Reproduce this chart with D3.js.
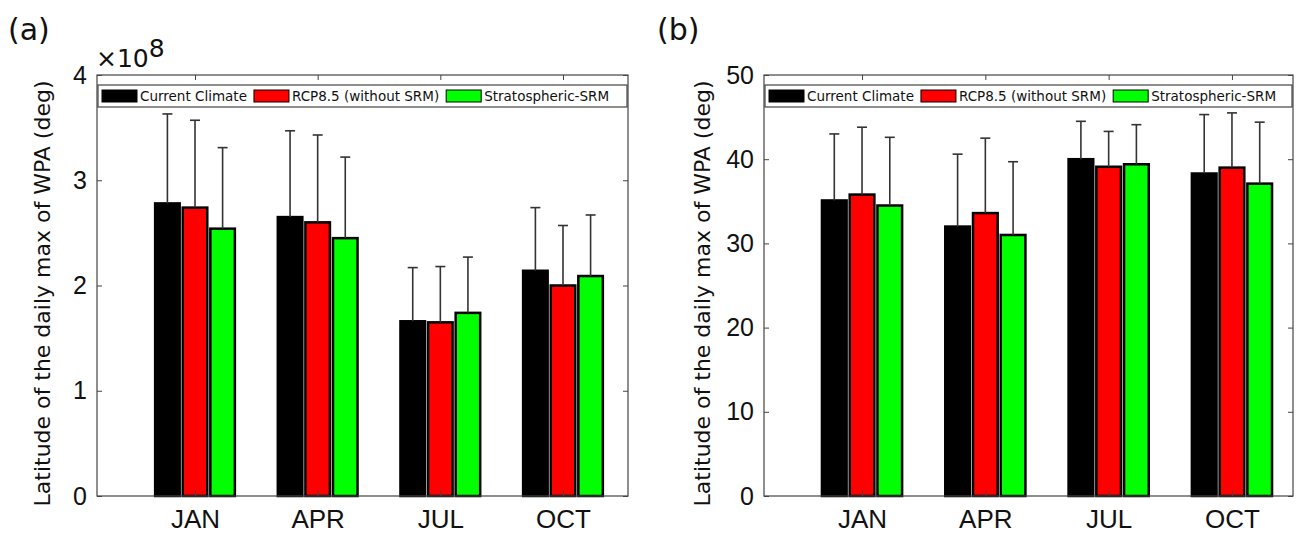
<!DOCTYPE html>
<html>
<head>
<meta charset="utf-8">
<script src="https://cdn.jsdelivr.net/npm/d3@7"></script>
<style>
body{margin:0;background:#fff;}
svg{font-family:"DejaVu Sans",sans-serif;}
</style>
</head>
<body>
<svg id="chart" width="1297" height="537"></svg>
<script>
var months = ["JAN","APR","JUL","OCT"];
var series = ["Current Climate","RCP8.5 (without SRM)","Stratospheric-SRM"];
var colors = ["#000000","#ff0000","#00ff00"];

// panel (a): values in units of 1e8
var aMean = [[2.78,2.65,1.66,2.14],[2.74,2.60,1.65,2.00],[2.54,2.45,1.74,2.09]];
var aTop  = [[3.63,3.47,2.17,2.74],[3.57,3.43,2.18,2.57],[3.31,3.22,2.27,2.67]];
var aTicks = [0,1,2,3,4];

// panel (b): degrees
var bMean = [[35.1,32.0,40.0,38.3],[35.8,33.6,39.1,39.0],[34.5,31.0,39.4,37.1]];
var bTop  = [[43.0,40.6,44.5,45.3],[43.8,42.5,43.3,45.5],[42.6,39.7,44.1,44.4]];
var bTicks = [0,10,20,30,40,50];

var svg = d3.select("#chart");

function panel(opt){
    var x = d3.scaleLinear().domain(opt.xdom).range([opt.l, opt.r]);
    var y = d3.scaleLinear().domain([0, opt.ymax]).range([opt.b, opt.t]);
    var g = svg.append("g");
    var off = 0.225, bw = 0.2;

    // bars
    series.forEach(function(s, si){
        g.selectAll(".bar"+si).data(opt.mean[si]).enter().append("rect")
            .attr("x", function(d,i){ return x(i+1+(si-1)*off-bw/2); })
            .attr("width", x(bw)-x(0))
            .attr("y", function(d){ return y(d); })
            .attr("height", function(d){ return y(0)-y(d); })
            .attr("fill", colors[si])
            .attr("stroke","#000").attr("stroke-width",2.5);
    });
    // error bars
    series.forEach(function(s, si){
        var eg = g.selectAll(".err"+si).data(opt.top[si]).enter().append("g");
        eg.append("line")
            .attr("x1", function(d,i){ return x(i+1+(si-1)*off); })
            .attr("x2", function(d,i){ return x(i+1+(si-1)*off); })
            .attr("y1", function(d,i){ return y(opt.mean[si][i]); })
            .attr("y2", function(d){ return y(d); })
            .attr("stroke","#333").attr("stroke-width",1.6);
        eg.append("line")
            .attr("x1", function(d,i){ return x(i+1+(si-1)*off)-5; })
            .attr("x2", function(d,i){ return x(i+1+(si-1)*off)+5; })
            .attr("y1", function(d){ return y(d); })
            .attr("y2", function(d){ return y(d); })
            .attr("stroke","#333").attr("stroke-width",1.6);
    });

    // frame
    g.append("rect").attr("x",opt.l).attr("y",opt.t)
        .attr("width",opt.r-opt.l).attr("height",opt.b-opt.t)
        .attr("fill","none").attr("stroke","#444").attr("stroke-width",1.2);

    // axes
    var yAx = g.append("g").attr("transform","translate("+opt.l+",0)")
        .call(d3.axisLeft(y).tickValues(opt.ticks).tickSize(-5).tickPadding(10)
            .tickFormat(d3.format("d")));
    var yAxR = g.append("g").attr("transform","translate("+opt.r+",0)")
        .call(d3.axisRight(y).tickValues(opt.ticks).tickSize(-5).tickFormat(""));
    var xAx = g.append("g").attr("transform","translate(0,"+opt.b+")")
        .call(d3.axisBottom(x).tickValues([1,2,3,4]).tickSize(-5).tickPadding(14)
            .tickFormat(function(d){ return months[d-1]; }));
    var xAxT = g.append("g").attr("transform","translate(0,"+opt.t+")")
        .call(d3.axisTop(x).tickValues([1,2,3,4]).tickSize(-5).tickFormat(""));
    [yAx,yAxR,xAx,xAxT].forEach(function(a){
        a.select(".domain").remove();
        a.selectAll("line").attr("stroke","#444");
        a.selectAll("text").attr("font-size",25).attr("fill","#111");
    });
    xAx.selectAll("text").attr("font-size",26);

    // legend
    var lg = g.append("g");
    lg.append("rect").attr("x",opt.l+1).attr("y",opt.t+10)
        .attr("width",opt.r-opt.l-2).attr("height",22)
        .attr("fill","#fff").attr("stroke","#444").attr("stroke-width",1.2);
    var lx = opt.l + 5;
    series.forEach(function(s, si){
        lg.append("rect").attr("x",lx).attr("y",opt.t+15).attr("width",35).attr("height",12)
            .attr("fill",colors[si]).attr("stroke","#000").attr("stroke-width",1);
        var t = lg.append("text").attr("x",lx+38).attr("y",opt.t+26)
            .attr("font-size",13.5).attr("fill","#111").text(s);
        lx += 38 + t.node().getComputedTextLength() + 7;
    });

    // y label
    g.append("text")
        .attr("transform","translate("+opt.ylx+","+((opt.t+opt.b)/2+8)+") rotate(-90)")
        .attr("text-anchor","middle").attr("font-size",22).attr("fill","#111")
        .text("Latitude of the daily max of WPA (deg)");

    // panel tag
    g.append("text").attr("x",opt.tagx).attr("y",40)
        .attr("font-size",30).attr("fill","#111").text(opt.tag);
    return g;
}

var ga = panel({l:97, r:628, t:75, b:496, xdom:[0.201,4.53], ymax:4,
    mean:aMean, top:aTop, ticks:aTicks, ylx:50, tag:"(a)", tagx:8});
var sci = ga.append("text").attr("x",96).attr("y",67).attr("fill","#111").attr("font-size",25);
sci.append("tspan").text("\u00d710");
sci.append("tspan").attr("dy",-10).attr("font-size",25).text("8");

panel({l:764, r:1293, t:75, b:496, xdom:[0.205,4.495], ymax:50,
    mean:bMean, top:bTop, ticks:bTicks, ylx:710, tag:"(b)", tagx:657});
</script>
</body>
</html>
